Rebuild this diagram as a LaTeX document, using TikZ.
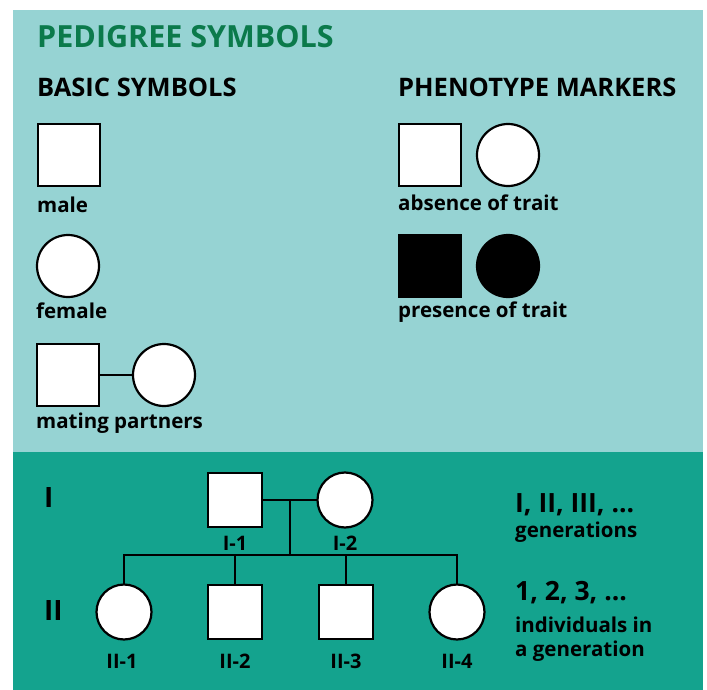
\documentclass[tikz,border=0pt]{standalone}
\usepackage{fontspec}
\setmainfont{Open Sans}
\usetikzlibrary{calc}
\definecolor{lightteal}{HTML}{96D3D3}
\definecolor{darkteal}{HTML}{14A38E}
\definecolor{titlegreen}{HTML}{0B7A4B}
\begin{document}
\begin{tikzpicture}[x=1pt,y=-1pt,
  sym/.style={draw=black, line width=2.2pt, fill=white, inner sep=0pt, outer sep=0pt},
  bigsq/.style={sym, rectangle, minimum size=62pt},
  bigci/.style={sym, circle, minimum size=62pt},
  smsq/.style={sym, rectangle, minimum size=54pt},
  smci/.style={sym, circle, minimum size=55pt},
  filled/.style={fill=black},
  lbl/.style={anchor=base west, inner sep=0pt, font=\fontsize{20.5}{24}\selectfont\bfseries},
  head/.style={anchor=base west, inner sep=0pt, font=\fontsize{25.5}{30}\selectfont\bfseries},
  idl/.style={anchor=base, inner sep=0pt, font=\fontsize{20}{24}\selectfont\bfseries},
  gen/.style={anchor=base west, inner sep=0pt, font=\fontsize{28}{32}\selectfont\bfseries},
  big/.style={anchor=base west, inner sep=0pt, font=\fontsize{26.5}{30}\selectfont\bfseries},
  ln/.style={draw=black, line width=2.2pt}
]
\useasboundingbox (0,0) rectangle (707,690);
\fill[white] (0,0) rectangle (707,690);
\fill[lightteal] (13,10) rectangle (703,452);
\fill[darkteal] (13,452) rectangle (703,690);

% headings
\node[anchor=base west, inner sep=0pt, text=titlegreen, font=\fontsize{30.5}{35}\selectfont\bfseries] (title) at (37,48) {PEDIGREE SYMBOLS};
\node[head] (basic) at (37,97) {BASIC SYMBOLS};
\node[head] (pheno) at (398,97) {PHENOTYPE MARKERS};

% basic symbols
\node[bigsq] (male) at (69,155) {};
\node[lbl] (malel) at (37,212) {male};
\node[bigci] (female) at (68,266) {};
\node[lbl] (femalel) at (36,318) {female};
\node[bigsq] (pm) at (68,375) {};
\node[bigci] (pf) at (164,375) {};
\draw[ln] (pm.east) -- (pf.west);
\node[lbl] (matel) at (36,428) {mating partners};

% phenotype markers
\node[bigsq] (am) at (430,155) {};
\node[bigci] (af) at (508,155) {};
\node[lbl] (absl) at (398,211) {absence of trait};
\node[bigsq, filled] (pmk) at (430,266) {};
\node[bigci, filled] (pfk) at (508,266) {};
\node[lbl] (presl) at (398,317) {presence of trait};

% pedigree
\node[gen] (g1) at (44,507) {I};
\node[gen] (g2) at (44,620) {II};

\node[smsq] (I1) at (235,500) {};
\node[smci] (I2) at (345,500) {};
\node[idl] (I1l) at (235,550) {I-1};
\node[idl] (I2l) at (345,550) {I-2};

\node[smci] (II1) at (124,612) {};
\node[smsq] (II2) at (235,612) {};
\node[smsq] (II3) at (346,612) {};
\node[smci] (II4) at (457,612) {};
\node[idl] (II1l) at (122,668) {II-1};
\node[idl] (II2l) at (235,668) {II-2};
\node[idl] (II3l) at (346,668) {II-3};
\node[idl] (II4l) at (457,668) {II-4};

\coordinate (m) at ($(I1.east)!0.5!(I2.west)$);
\coordinate (bar) at ($(m)+(0,55)$);
\draw[ln] (I1.east) -- (I2.west);
\draw[ln] (m) -- (bar);
\draw[ln] (II1.north) |- (bar);
\draw[ln] (II4.north) |- (bar);
\draw[ln] (II2.north) -- (II2.north |- bar);
\draw[ln] (II3.north) -- (II3.north |- bar);

% legend text
\node[big] (gnum) at (515,512) {I, II, III, ...};
\node[lbl] (gtxt) at (515,537) {generations};
\node[big] (inum) at (515,600) {1, 2, 3, ...};
\node[lbl] (itxt1) at (515,632) {individuals in};
\node[lbl] (itxt2) at (515,656) {a generation};
\end{tikzpicture}
\end{document}
